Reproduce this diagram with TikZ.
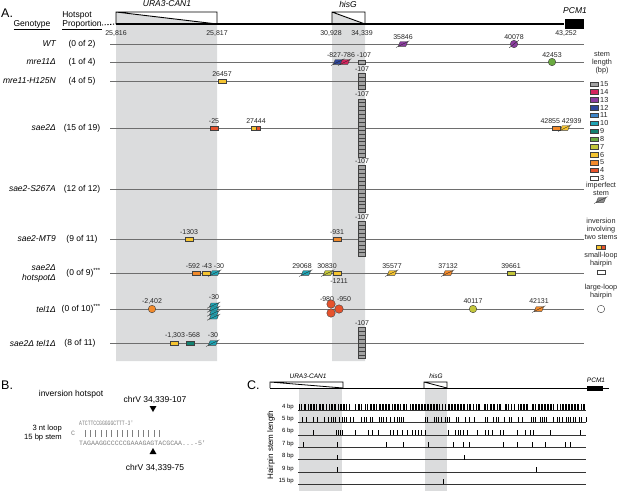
\documentclass[tikz,border=0pt]{standalone}
\usepackage{fontspec}
\setmainfont{Liberation Sans}
\newfontfamily\seqfont{Liberation Mono}
\usetikzlibrary{shapes.geometric}

\definecolor{shadegray}{HTML}{DBDCDD}
\definecolor{rowgray}{HTML}{6E6E6E}
\definecolor{seqgray}{HTML}{808080}
\definecolor{c15}{HTML}{A2A2A2}
\definecolor{c14}{HTML}{D4245E}
\definecolor{c13}{HTML}{8B3C9F}
\definecolor{c12}{HTML}{2F479B}
\definecolor{c11}{HTML}{3F86C9}
\definecolor{c10}{HTML}{20A4B4}
\definecolor{c9}{HTML}{12806F}
\definecolor{c8}{HTML}{6AAA40}
\definecolor{c7}{HTML}{C3C63A}
\definecolor{c6}{HTML}{F5C431}
\definecolor{c5}{HTML}{F28A2B}
\definecolor{c4}{HTML}{E6522C}
\definecolor{c3}{HTML}{FFFFFF}

\begin{document}
\begin{tikzpicture}
  [x=1pt, y=-1pt,
   hp/.style={rectangle, draw=black!75, line width=0.4pt, fill=#1, minimum width=8.5pt, minimum height=4.6pt, inner sep=0pt},
   lp/.style={circle, draw=black!75, line width=0.4pt, fill=#1, minimum size=7.5pt, inner sep=0pt},
   imp/.style={rectangle, xslant=0.4, draw=black!75, line width=0.4pt, fill=#1, minimum width=7.5pt, minimum height=4.6pt, inner sep=0pt},
   stk/.style={rectangle, draw=black!75, line width=0.35pt, fill=c15, minimum width=7pt, minimum height=3.9pt, inner sep=0pt},
   slash/.style={black!85, line width=0.35pt},
   geno/.style={font=\fontsize{8.5}{10}\selectfont\itshape, anchor=east, inner sep=0pt, align=right},
   prop/.style={font=\fontsize{8.5}{10}\selectfont, inner sep=0pt},
   lbl/.style={font=\fontsize{7}{8}\selectfont, inner sep=0pt, text=black!85},
   leg/.style={font=\fontsize{7.3}{8}\selectfont, inner sep=0pt, align=center, text=black!85},
   panel/.style={font=\fontsize{12.5}{13}\selectfont, inner sep=0pt, anchor=west},
   seq/.style={font=\seqfont\fontsize{6.6}{7}\selectfont, text=seqgray, inner sep=0pt},
   tri/.style={regular polygon, regular polygon sides=3, fill=black, minimum size=8pt, inner sep=0pt},
   chrline/.style={line width=1.1pt, black},
   rowline/.style={line width=0.75pt, rowgray},
   tick/.style={line width=0.6pt, black},
   bp/.style={font=\fontsize{6}{7}\selectfont, anchor=east, inner sep=0pt}]

  \useasboundingbox (0,0) rectangle (617,491);

  % ---------------- A ----------------
  \fill[shadegray] (116,12.5) -- (217,24) -- (217,361) -- (116,361) -- cycle;
  \fill[shadegray] (332,12.5) -- (365,24) -- (365,361) -- (332,361) -- cycle;

  \node[panel] (pA) at (1,13) {A.};
  \node[prop] (hGeno) at (32,25) {\underline{Genotype}};
  \node[prop] (hHot) at (77,15) {Hotspot};
  \node[prop] (hProp) at (82,25) {\underline{Proportion}};
  \coordinate (chrA) at (116,24);
  \draw[line width=0.9pt, dash pattern=on 1.2pt off 1.6pt] (hProp.east) -- (chrA);

  \node[fill=black, minimum width=19pt, minimum height=10pt, inner sep=0pt] (pcmA) at (574,24) {};
  \draw[chrline] (chrA) -- (pcmA.west);
  \draw[line width=0.9pt] (116,24) -- (116,12) -- (217,12) -- (217,24) (116,12) -- (217,24);
  \draw[line width=0.9pt] (332,24) -- (332,12) -- (365,12) -- (365,24) (332,12) -- (365,24);
  \node[font=\fontsize{8.5}{10}\selectfont\itshape] (gURA) at (167,4) {URA3-CAN1};
  \node[font=\fontsize{8.5}{10}\selectfont\itshape] (gHis) at (348,4) {hisG};
  \node[font=\fontsize{8.5}{10}\selectfont\itshape] (gPCM) at (575,11) {PCM1};
  \node[lbl] (p25816) at (116,33) {25,816};
  \node[lbl] (p25817) at (217,33) {25,817};
  \node[lbl] (p30928) at (331,33) {30,928};
  \node[lbl] (p34339) at (362,33) {34,339};
  \node[lbl] (p43252) at (566,33) {43,252};

  \foreach \y in {44,62,81,128,189,239,273,309,343}
    \draw[rowline] (110,\y) -- (584,\y);

  % genotypes
  \node[geno] (gWT) at (56,44) {WT};
  \node[geno] (gMre) at (56,62) {mre11Δ};
  \node[geno] (gH125) at (56,81) {mre11-H125N};
  \node[geno] (gSae) at (56,128) {sae2Δ};
  \node[geno] (gS267) at (56,189) {sae2-S267A};
  \node[geno] (gMT9) at (56,239) {sae2-MT9};
  \node[geno] (gHsd) at (56,273) {sae2Δ\\hotspotΔ};
  \node[geno] (gTel) at (56,309) {tel1Δ};
  \node[geno] (gSaeTel) at (56,343) {sae2Δ tel1Δ};

  \node[prop] (fWT) at (82,44) {(0 of 2)};
  \node[prop] (fMre) at (82,62) {(1 of 4)};
  \node[prop] (fH125) at (82,81) {(4 of 5)};
  \node[prop] (fSae) at (82,128) {(15 of 19)};
  \node[prop] (fS267) at (82,189) {(12 of 12)};
  \node[prop] (fMT9) at (82,239) {(9 of 11)};
  \node[prop, anchor=east] (fHsd) at (101,273) {(0 of 9)\textsuperscript{***}};
  \node[prop, anchor=east] (fTel) at (101,309) {(0 of 10)\textsuperscript{***}};
  \node[prop] (fSaeTel) at (80,343) {(8 of 11)};

  % -107 stacks
  \foreach \r/\n/\y in {b/4/81, c/15/128, d/12/189, e/9/239, f/8/343}{
    \pgfmathsetmacro\stktop{\y-\n*1.95}
    \node[lbl] (top\r) at (362,\stktop-4.5) {-107};
    \foreach \k in {1,...,\n}
      \node[stk] (stk\r\k) at (362,\stktop+3.9*\k-1.95) {};
  }

  % WT
  \node[lbl] (t35846) at (403,37) {35846};
  \node[imp=c13] (m35846) at (403,44) {};
  \node[lbl] (t40078) at (514,37) {40078};
  \node[lp=c13] (m40078) at (514,44) {};
  \draw[slash] ([shift={(-2,1)}]m40078.south west) -- ([shift={(2,-1)}]m40078.north east);

  % mre11
  \node[lbl] (t827) at (349,55) {-827-786 -107};
  \node[imp=c12] (m827) at (338,62) {};
  \node[imp=c14] (m786) at (345,62) {};
  \node[hp=c15, minimum width=7pt] (m107) at (362,62) {};
  \node[lbl] (t42453) at (552,55) {42453};
  \node[lp=c8] (m42453) at (552,62) {};

  % mre11-H125N
  \node[lbl] (t26457) at (222,74) {26457};
  \node[hp=c6] (m26457) at (222,81) {};

  % sae2
  \node[lbl] (t25) at (214,121) {-25};
  \node[hp=c4] (m25) at (214,128) {};
  \node[lbl] (t27444) at (256,121) {27444};
  \node[hp=c6, minimum width=4.6pt] (m27444a) at (253.7,128) {};
  \node[hp=c4, minimum width=4.6pt] (m27444b) at (258.3,128) {};
  \node[lbl] (t42855) at (561,121) {42855 42939};
  \node[hp=c5] (m42855) at (556,128) {};
  \node[imp=c6] (m42939) at (565,128) {};

  % sae2-MT9
  \node[lbl] (t1303) at (189,232) {-1303};
  \node[hp=c6] (m1303) at (189,239) {};
  \node[lbl] (t931) at (337,232) {-931};
  \node[hp=c5] (m931) at (337,239) {};

  % sae2 hotspot
  \node[lbl] (t592) at (205,266) {-592 -43 -30};
  \node[hp=c5] (m592) at (196,273) {};
  \node[hp=c6] (m43) at (206,273) {};
  \node[imp=c10] (m30a) at (215,273) {};
  \node[lbl] (t29068) at (302,266) {29068};
  \node[imp=c10] (m29068) at (306,273) {};
  \node[lbl] (t30830) at (327,266) {30830};
  \node[imp=c7] (m30830) at (328,273) {};
  \node[hp=c6] (m1211) at (337,273) {};
  \node[lbl] (t1211) at (339,281) {-1211};
  \node[lbl] (t35577) at (392,266) {35577};
  \node[imp=c6] (m35577) at (392,273) {};
  \node[lbl] (t37132) at (448,266) {37132};
  \node[imp=c5] (m37132) at (448,273) {};
  \node[lbl] (t39661) at (511,266) {39661};
  \node[hp=c7] (m39661) at (511,273) {};

  % tel1
  \node[lbl] (t2402) at (152,301) {-2,402};
  \node[lp=c5] (m2402) at (152,309) {};
  \node[lbl] (t30b) at (214,297) {-30};
  \foreach \k in {1,...,4}
    \node[imp=c10, minimum height=4pt] (m30s\k) at (214,301+4*\k) {};
  \node[lbl] (t980) at (327,299) {-980};
  \node[lbl] (t950) at (344,299) {-950};
  \node[lp=c4, minimum size=8.5pt] (m980a) at (331,304) {};
  \node[lp=c4, minimum size=8.5pt] (m980b) at (331,313) {};
  \node[lp=c4, minimum size=8.5pt] (m950) at (339,309) {};
  \node[lbl] (t40117) at (473,301) {40117};
  \node[lp=c7] (m40117) at (473,309) {};
  \node[lbl] (t42131) at (539,301) {42131};
  \node[imp=c5] (m42131) at (539,309) {};

  % sae2 tel1
  \node[lbl] (t1303b) at (175,335) {-1,303};
  \node[lbl] (t568) at (193,335) {-568};
  \node[lbl] (t30c) at (213,335) {-30};
  \node[hp=c6] (m1303b) at (174,343) {};
  \node[hp=c9] (m568) at (190,343) {};
  \node[imp=c10] (m30c) at (213,343) {};

  % legend
  \node[leg] (lgStem) at (602,63) {stem\\length\\(bp)};
  \foreach \v [count=\k from 0] in {15,14,...,3}{
    \node[hp=c\v, minimum width=8pt, minimum height=4.4pt] (lg\v) at (594,84+7.85*\k) {};
    \node[leg, anchor=west] (lgt\v) at (600,84+7.85*\k) {\v};
  }
  \node[leg] (lgImp) at (601,189) {imperfect\\stem};
  \node[imp=black!45] (lgImpM) at (601,200) {};
  \node[leg] (lgInv) at (601,229) {inversion\\involving\\two stems};
  \node[hp=c6, minimum width=4.4pt] (lgInvA) at (598.8,247) {};
  \node[hp=c4, minimum width=4.4pt] (lgInvB) at (603.2,247) {};
  \node[leg] (lgSl) at (601,260) {small-loop\\hairpin};
  \node[hp=white] (lgSlM) at (601,272) {};
  \node[leg] (lgLl) at (601,292) {large-loop\\hairpin};
  \node[lp=white] (lgLlM) at (601,309) {};

  \foreach \n in {m35846,m827,m786,m42939,m30a,m29068,m30830,m35577,m37132,m42131,m30c,m30s1,m30s2,m30s3,m30s4,lgImpM}
    \draw[slash] ([shift={(-2,1)}]\n.south west) -- ([shift={(1.5,-0.8)}]\n.north east);

  % ---------------- B ----------------
  \node[panel] (pB) at (1,385) {B.};
  \node[prop] (invh) at (71,394) {inversion hotspot};
  \node[prop] (chrTop) at (155,400) {chrV 34,339-107};
  \node[tri, shape border rotate=180] (triDn) at (153,408) {};
  \node[seq, anchor=west] (seqTop) at (79,423) {\scalebox{0.72}[1]{ATCTTCCGGGGGCTTT-3'}};
  \node[seq] (loopC) at (73,433) {C};
  \foreach \k in {0,...,14}
    \draw[seqgray, line width=0.55pt] (85+5.3*\k,430) -- ++(0,6.5);
  \node[seq, anchor=west] (seqBot) at (79,443) {TAGAAGGCCCCCGAAAGAGTACGCAA...-5'};
  \node[prop, anchor=east, font=\fontsize{7.6}{9}\selectfont] (loopL) at (62,429) {3 nt loop};
  \node[prop, anchor=east, font=\fontsize{7.6}{9}\selectfont] (stemL) at (62,438) {15 bp stem};
  \node[tri] (triUp) at (153,452) {};
  \node[prop] (chrBot) at (155,468) {chrV 34,339-75};

  % ---------------- C ----------------
  \fill[shadegray] (299,388) rectangle (342,491);
  \fill[shadegray] (425,388) rectangle (447,491);
  \node[panel] (pC) at (247,385) {C.};
  \coordinate (chrC) at (270,388);
  \coordinate (chrCend) at (609,388);
  \node[fill=black, minimum width=16pt, minimum height=5pt, inner sep=0pt] (pcmC) at (595,388) {};
  \draw[line width=0.9pt] (chrC) -- (chrCend);
  \draw[line width=0.8pt] (270,388) -- (270,382) -- (343,382) -- (343,388) (270,382) -- (343,388);
  \draw[line width=0.8pt] (424,388) -- (424,382) -- (447,382) -- (447,388) (424,382) -- (447,388);
  \node[font=\fontsize{6.5}{7}\selectfont\itshape] (cURA) at (308,376) {URA3-CAN1};
  \node[font=\fontsize{6.5}{7}\selectfont\itshape] (cHis) at (436,376) {hisG};
  \node[font=\fontsize{6.5}{7}\selectfont\itshape] (cPCM) at (596,380) {PCM1};
  \node[font=\fontsize{8}{9}\selectfont, rotate=90] (hsl) at (271,445) {Hairpin stem length};

  \foreach \lab/\y in {4 bp/410, 5 bp/422.4, 6 bp/434.8, 7 bp/447.2, 8 bp/459.6, 9 bp/472, 15 bp/484.4}{
    \node[bp] (r\y) at (294,\y-3.5) {\lab};
    \draw[line width=0.6pt, black!80] (298,\y) -- (586,\y);
  }
  \pgfmathsetseed{42}
  \foreach \i in {0,...,190}{
    \pgfmathtruncatemacro\on{rnd>0.2}
    \ifnum\on=1 \draw[tick, line width=0.7pt] (299.5+1.5*\i,410) -- ++(0,-6); \fi
  }
  \foreach \i in {0,...,130}{
    \pgfmathtruncatemacro\on{rnd>0.5}
    \ifnum\on=1 \draw[tick] (300+2.2*\i,422.4) -- ++(0,-5); \fi
  }
  \foreach \x in {313,336,338,340,342,355,368,372,378,390,393,397,402,407,412,415,418,421,425,448,455,458,460,463,467,477,485,488,492,500,503,517,525,530,533,550,580}
    \draw[tick] (\x,434.8) -- ++(0,-5);
  \foreach \x in {303,337,386,403,428,453,463,469,503,517,532,545,565,570}
    \draw[tick] (\x,447.2) -- ++(0,-5);
  \foreach \x in {337,464}
    \draw[tick] (\x,459.6) -- ++(0,-5);
  \foreach \x in {337,536}
    \draw[tick] (\x,472) -- ++(0,-5);
  \draw[tick] (443,484.4) -- ++(0,-5);
\end{tikzpicture}
\end{document}
